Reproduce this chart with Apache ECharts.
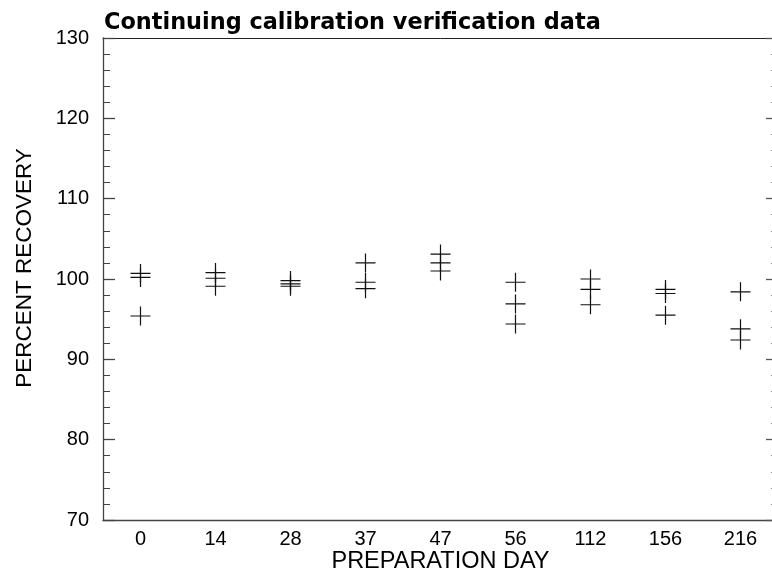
<!DOCTYPE html>
<html>
<head>
<meta charset="utf-8">
<script src="https://cdn.jsdelivr.net/npm/echarts@6/dist/echarts.min.js"></script>
<style>
  html, body { margin: 0; padding: 0; background: #fff; overflow: hidden; width: 772px; height: 583px; }
  /* the original plot frame runs a few pixels past the right edge of the picture */
  #chart { width: 778px; height: 583px; }
</style>
</head>
<body>
<div id="chart"></div>
<script>
// preparation days (categories)
const days = ['0', '14', '28', '37', '47', '56', '112', '156', '216']
// three replicate measurements per day, percent recovery
const rep1 = [100.7, 100.8, 99.8, 102.0, 103.1, 99.6, 100.0, 98.7, 98.4]
const rep2 = [100.2, 100.1, 99.4, 99.6, 102.0, 96.9, 98.7, 98.2, 93.8]
const rep3 = [95.4, 99.1, 99.1, 98.8, 101.0, 94.4, 96.8, 95.5, 92.4]
const yTicks = [70, 80, 90, 100, 110, 120, 130]

const font = 'Liberation Sans, Arial, sans-serif'
const plus = 'path://M9.4,0h1.2v20h-1.2zM0,9.4h20v1.2h-20z'

const chart = echarts.init(document.getElementById('chart'))

const toSeries = (vals) => ({
  type: 'scatter',
  xAxisIndex: 0,
  yAxisIndex: 0,
  symbol: plus,
  symbolSize: [20, 19],
  itemStyle: { color: '#111', opacity: 1 },
  data: vals.map((v, i) => [i, v]),
  silent: true,
  animation: false
})

chart.setOption({
  animation: false,
  title: {
    text: 'Continuing calibration verification data',
    left: 99,
    top: 7,
    textStyle: { fontFamily: 'DejaVu Sans', fontSize: 22.4, fontWeight: 'bold', color: '#000' }
  },
  grid: { left: 103, right: 0, top: 38, bottom: 63 },
  xAxis: [
    {
      type: 'category',
      data: days,
      position: 'bottom',
      name: 'PREPARATION DAY',
      nameLocation: 'middle',
      nameGap: 30,
      nameMoveOverlap: false,
      nameTextStyle: { fontFamily: font, fontSize: 23.5, color: '#000' },
      axisLine: { lineStyle: { color: '#444', width: 1.3 } },
      axisTick: { inside: true, length: 11, alignWithLabel: true, interval: 0, lineStyle: { color: '#444', width: 1.3 } },
      axisLabel: { fontFamily: font, fontSize: 20, color: '#000', margin: 9, interval: 0 },
      splitLine: { show: false }
    },
    {
      type: 'category',
      data: days,
      position: 'top',
      axisLine: { lineStyle: { color: '#222', width: 1 } },
      axisTick: { inside: true, length: 12, alignWithLabel: true, interval: 0, lineStyle: { color: '#555', width: 1.3 } },
      axisLabel: { show: false },
      splitLine: { show: false }
    }
  ],
  yAxis: [
    {
      type: 'value',
      min: yTicks[0],
      max: yTicks[yTicks.length - 1],
      interval: 10,
      position: 'left',
      name: 'PERCENT RECOVERY',
      nameLocation: 'middle',
      nameGap: 67,
      nameMoveOverlap: false,
      nameTextStyle: { fontFamily: font, fontSize: 22.5, color: '#000', padding: [0, 0, 0, 22] },
      axisLine: { show: true, lineStyle: { color: '#444', width: 1.3 } },
      axisTick: { show: true, inside: true, length: 12, lineStyle: { color: '#444', width: 1.3 } },
      minorTick: { show: true, splitNumber: 5, length: 7, lineStyle: { color: '#444', width: 1 } },
      axisLabel: { fontFamily: font, fontSize: 20, color: '#000', margin: 14 },
      splitLine: { show: false }
    },
    {
      type: 'value',
      min: yTicks[0],
      max: yTicks[yTicks.length - 1],
      interval: 10,
      position: 'right',
      axisLine: { show: true, lineStyle: { color: '#444', width: 1.3 } },
      axisTick: { show: true, inside: true, length: 12, lineStyle: { color: '#555', width: 1.3 } },
      minorTick: { show: true, splitNumber: 5, length: 7, lineStyle: { color: '#888', width: 1 } },
      axisLabel: { show: false },
      splitLine: { show: false }
    }
  ],
  series: [toSeries(rep1), toSeries(rep2), toSeries(rep3)]
})
</script>
</body>
</html>
